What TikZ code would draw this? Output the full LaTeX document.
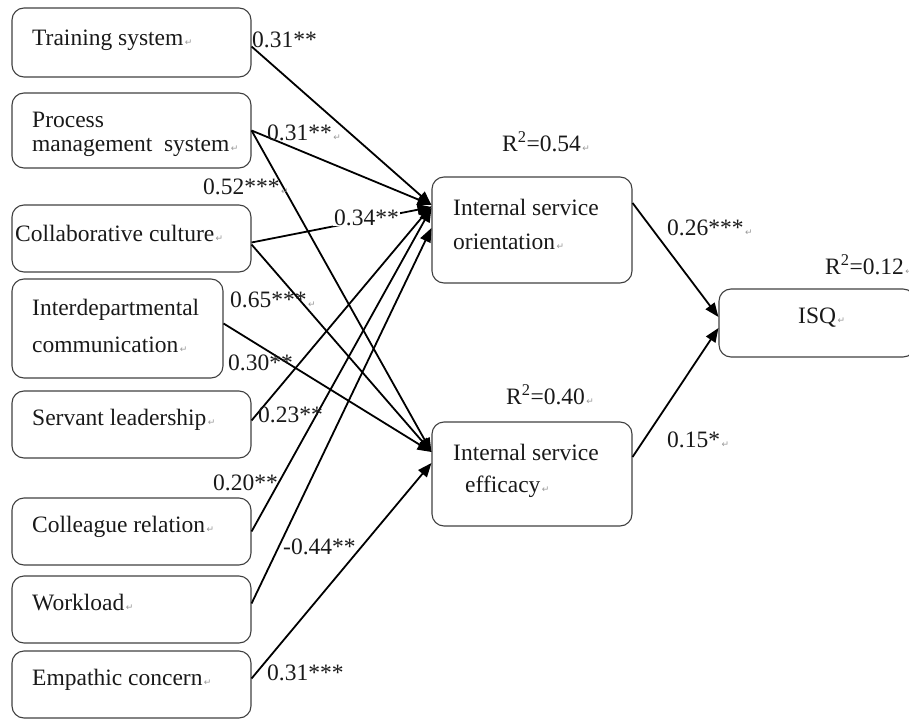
\documentclass[tikz,border=0pt]{standalone}
\usepackage{fontspec}
\setmainfont{Liberation Serif}
\newfontfamily\djv{DejaVu Sans}
\usetikzlibrary{arrows.meta}
\newcommand{\retmark}{{\djv\fontsize{9}{9}\selectfont\color{black!40}\,↵}}
\begin{document}
\begin{tikzpicture}[x=1pt,y=-1pt,
  box/.style={draw=black!75,line width=1.1pt,rounded corners=12pt,inner sep=0pt},
  txt/.style={anchor=west,inner sep=0pt,text=black!90,font=\fontsize{23.5}{27}\selectfont},
  arr/.style={line width=1.8pt,-{Triangle[length=14pt,width=11pt]}},
]
\useasboundingbox (0,0) rectangle (909,719);
% left boxes
\node[box,minimum width=239pt,minimum height=69pt] (b1) at (131.5,42.5) {};
\node[box,minimum width=239pt,minimum height=75pt] (b2) at (131.5,130.5) {};
\node[box,minimum width=239pt,minimum height=67pt] (b3) at (131.5,238.5) {};
\node[box,minimum width=211pt,minimum height=99pt] (b4) at (117.5,328.5) {};
\node[box,minimum width=239pt,minimum height=67pt] (b5) at (131.5,424.5) {};
\node[box,minimum width=239pt,minimum height=67pt] (b6) at (131.5,531.5) {};
\node[box,minimum width=239pt,minimum height=67pt] (b7) at (131.5,609.5) {};
\node[box,minimum width=239pt,minimum height=67pt] (b8) at (131.5,684.5) {};
% middle and right boxes
\node[box,minimum width=200pt,minimum height=106pt] (iso) at (532,230) {};
\node[box,minimum width=200pt,minimum height=104pt] (ise) at (532,474) {};
\node[box,minimum width=196pt,minimum height=68pt] (isq) at (817,323) {};
% box texts
\node[txt] (t1) at (32,40) {Training system\retmark};
\node[txt] (t2a) at (32,120) {Process};
\node[txt] (t2b) at (32,147) {management\ \ system\retmark};
\node[txt] (t3) at (15,233) {Collaborative culture\retmark};
\node[txt] (t4a) at (32,310) {Interdepartmental};
\node[txt] (t4b) at (32,345) {communication\retmark};
\node[txt] (t5) at (32,420) {Servant leadership\retmark};
\node[txt] (t6) at (32,527) {Colleague relation\retmark};
\node[txt] (t7) at (32,603) {Workload\retmark};
\node[txt] (t8) at (32,680) {Empathic concern\retmark};
\node[txt] (t9a) at (453,207) {Internal service};
\node[txt] (t9b) at (453,242) {orientation\retmark};
\node[txt] (t10a) at (453,452) {Internal service};
\node[txt] (t10b) at (465,487) {efficacy\retmark};
\node[txt] (t11) at (798,318) {ISQ\retmark};
% connectors
\draw[arr] ([yshift=-4pt]b1.east) -- ([yshift=25pt]iso.west);
\draw[arr] (b2.east) -- ([yshift=25pt]iso.west);
\draw[arr] (b2.east) -- ([yshift=22pt]ise.west);
\draw[arr] ([yshift=-4pt]b3.east) -- ([yshift=23pt]iso.west);
\draw[arr] ([yshift=-6pt]b3.east) -- ([yshift=22pt]ise.west);
\draw[arr] ([yshift=5pt]b4.east) -- ([yshift=22pt]ise.west);
\draw[arr] ([yshift=4pt]b5.east) -- ([yshift=24pt]iso.west);
\draw[arr] ([yshift=0pt]b6.east) -- ([yshift=22pt]iso.west);
\draw[arr] ([yshift=6pt]b7.east) -- ([yshift=2pt]iso.west);
\draw[arr] ([yshift=6pt]b8.east) -- ([yshift=11pt]ise.west);
\draw[arr] ([yshift=27pt]iso.east) -- ([yshift=6pt]isq.west);
\draw[arr] ([yshift=17pt]ise.east) -- ([yshift=-5pt]isq.west);
% coefficient labels
\node[txt] (l1) at (252,40) {0.31**};
\node[txt] (l2) at (267,133) {0.31**\retmark};
\node[txt] (l3) at (203,187) {0.52***\retmark};
\node[txt,fill=white,inner xsep=1pt] (l4) at (333,218) {0.34**};
\node[txt] (l5) at (230,300) {0.65***\retmark};
\node[txt] (l6) at (228,363) {0.30**};
\node[txt] (l7) at (258,415) {0.23**};
\node[txt] (l8) at (213,483) {0.20**};
\node[txt] (l9) at (283,547) {-0.44**};
\node[txt] (l10) at (267,673) {0.31***};
\node[txt] (l11) at (667,228) {0.26***\retmark};
\node[txt] (l12) at (667,440) {0.15*\retmark};
\node[txt] (r1) at (502,142) {R\textsuperscript{2}=0.54\retmark};
\node[txt] (r2) at (506,395) {R\textsuperscript{2}=0.40\retmark};
\node[txt] (r3) at (825,265) {R\textsuperscript{2}=0.12\retmark};
\end{tikzpicture}
\end{document}
